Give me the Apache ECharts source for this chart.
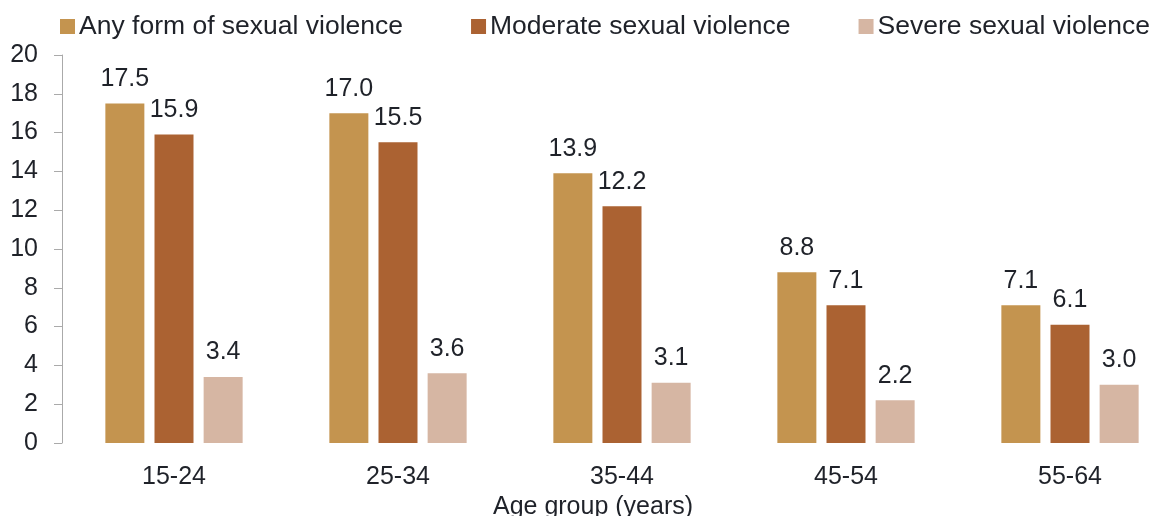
<!DOCTYPE html>
<html>
<head>
<meta charset="utf-8">
<script src="https://cdn.jsdelivr.net/npm/echarts@6/dist/echarts.min.js"></script>
<style>
  html, body { margin: 0; padding: 0; background: #fff; }
  #chart { width: 1153px; height: 516px; }
</style>
</head>
<body>
<div id="chart"></div>
<script>
const ageGroups = ['15-24', '25-34', '35-44', '45-54', '55-64'];
const anyForm = [17.5, 17.0, 13.9, 8.8, 7.1];
const moderate = [15.9, 15.5, 12.2, 7.1, 6.1];
const severe = [3.4, 3.6, 3.1, 2.2, 3.0];

const font = 'Liberation Sans, Arial, sans-serif';
const textColor = '#1f2229';

function barSeries(name, data, color) {
  return {
    name: name,
    type: 'bar',
    data: data,
    barWidth: 39,
    barGap: '26%',
    itemStyle: { color: color },
    label: {
      show: true,
      position: 'top',
      distance: 12,
      fontFamily: font,
      fontSize: 25,
      color: textColor,
      formatter: p => p.value.toFixed(1)
    }
  };
}

let myChart = echarts.init(document.getElementById('chart'));
myChart.setOption({
  animation: false,
  legend: {
    top: 8,
    left: 55,
    width: 1098,
    itemWidth: 15,
    itemHeight: 15,
    itemGap: 68,
    icon: 'rect',
    textStyle: { fontFamily: font, fontSize: 26.5, color: textColor, padding: [0, 0, 0, -1] }
  },
  grid: {
    left: 62,
    width: 1120,
    top: 55,
    bottom: 73,
    outerBoundsMode: 'none'
  },
  xAxis: {
    type: 'category',
    data: ageGroups,
    name: 'Age group (years)',
    nameLocation: 'middle',
    nameGap: 48,
    nameTextStyle: { fontFamily: font, fontSize: 25, color: textColor, padding: [0, 58, 0, 0] },
    axisLine: { show: false },
    axisTick: { show: false },
    axisLabel: { fontFamily: font, fontSize: 25, color: textColor, margin: 22 }
  },
  yAxis: {
    type: 'value',
    min: 0,
    max: 20,
    interval: 2,
    splitLine: { show: false },
    axisLine: { show: true, lineStyle: { color: '#aaaaaa' } },
    axisTick: { show: true, length: 8, lineStyle: { color: '#aaaaaa' } },
    axisLabel: { fontFamily: font, fontSize: 25, color: textColor, margin: 24 }
  },
  series: [
    barSeries('Any form of sexual violence', anyForm, '#c4944f'),
    barSeries('Moderate sexual violence', moderate, '#ab6232'),
    barSeries('Severe sexual violence', severe, '#d6b6a3')
  ]
});
</script>
</body>
</html>
